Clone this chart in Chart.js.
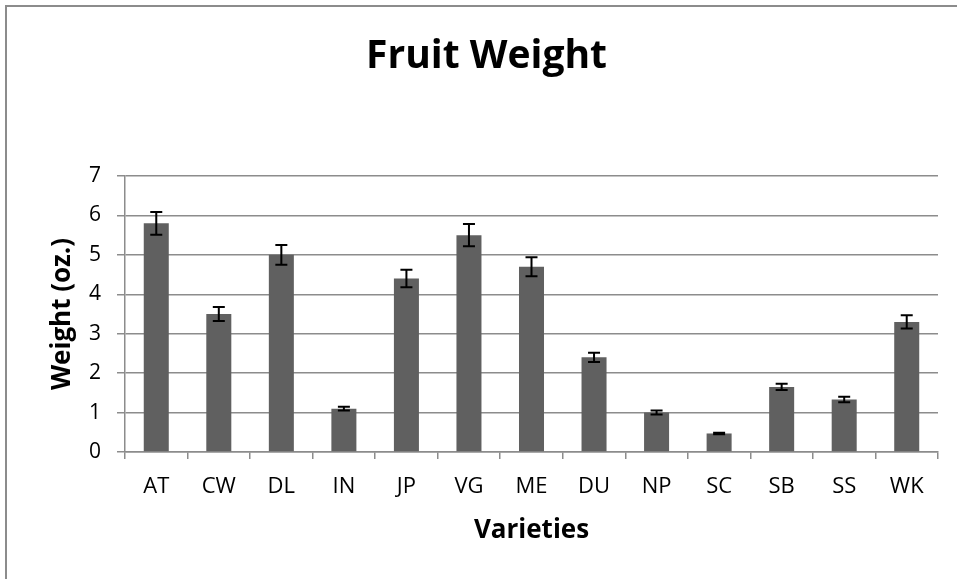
<!DOCTYPE html>
<html>
<head>
<meta charset="utf-8">
<script src="https://cdn.jsdelivr.net/npm/chart.js@4/dist/chart.umd.min.js"></script>
<style>
  html, body { margin: 0; padding: 0; background: #fff; overflow: hidden; }
  #frame { position: absolute; left: 5px; top: 5px; width: 1200px; height: 900px; border: 2px solid #8c8c8c; box-sizing: border-box; }
  #wrap { position: absolute; left: 0; top: 0; width: 957px; height: 579px; }
</style>
</head>
<body>
<div id="frame"></div>
<div id="wrap"><canvas id="c"></canvas></div>
<script>
const categories = ['AT', 'CW', 'DL', 'IN', 'JP', 'VG', 'ME', 'DU', 'NP', 'SC', 'SB', 'SS', 'WK'];
const weights = [5.8, 3.5, 5.0, 1.1, 4.4, 5.5, 4.7, 2.4, 1.0, 0.47, 1.65, 1.33, 3.3];
const errors = [0.29, 0.18, 0.25, 0.05, 0.22, 0.28, 0.24, 0.12, 0.05, 0.02, 0.08, 0.07, 0.17];
const yTicks = [0, 1, 2, 3, 4, 5, 6, 7];

const FONT = '"Open Sans", sans-serif';
const GRID = '#8c8c8c';

const errorBars = {
  id: 'errorBars',
  afterDatasetsDraw(chart) {
    const meta = chart.getDatasetMeta(0);
    const ys = chart.scales.y;
    const ctx = chart.ctx;
    ctx.save();
    ctx.strokeStyle = '#000';
    ctx.lineWidth = 2;
    meta.data.forEach((bar, i) => {
      const v = weights[i], e = errors[i];
      const yt = ys.getPixelForValue(v + e);
      const yb = ys.getPixelForValue(v - e);
      const x = bar.x;
      ctx.beginPath();
      ctx.moveTo(x, yt); ctx.lineTo(x, yb);
      ctx.moveTo(x - 6, yt); ctx.lineTo(x + 6, yt);
      ctx.moveTo(x - 6, yb); ctx.lineTo(x + 6, yb);
      ctx.stroke();
    });
    ctx.restore();
  }
};

new Chart(document.getElementById('c'), {
  type: 'bar',
  data: {
    labels: categories,
    datasets: [{
      data: weights,
      backgroundColor: '#606060',
      borderWidth: 0,
      categoryPercentage: 1,
      barPercentage: 0.4
    }]
  },
  plugins: [errorBars],
  options: {
    responsive: true,
    maintainAspectRatio: false,
    animation: false,
    layout: { padding: { left: 35, right: 19, top: 0, bottom: 0 } },
    plugins: {
      legend: { display: false },
      tooltip: { enabled: false },
      title: {
        display: true,
        text: 'Fruit Weight',
        color: '#000',
        font: { family: FONT, size: 39, weight: 'bold', lineHeight: 1.2 },
        padding: { top: 33, bottom: 96.2 }
      }
    },
    scales: {
      x: {
        afterFit(scale) { scale.height = 127; },
        grid: { display: true, drawOnChartArea: false, drawTicks: true, tickLength: 7, color: GRID, lineWidth: 1.5, offset: true },
        border: { display: true, color: GRID, width: 1.5 },
        ticks: { color: '#000', font: { family: FONT, size: 22 }, padding: 15, maxRotation: 0 },
        title: {
          display: true, text: 'Varieties', color: '#000',
          font: { family: FONT, size: 26, weight: 'bold', lineHeight: 1.2 },
          padding: { top: 0, bottom: 33 }
        }
      },
      y: {
        min: 0, max: 7,
        afterFit(scale) { scale.width = 90; },
        afterBuildTicks(scale) { scale.ticks = yTicks.map(v => ({ value: v })); },
        grid: { color: GRID, lineWidth: 1.5, tickLength: 8, drawTicks: true },
        border: { display: true, color: GRID, width: 1.5 },
        ticks: { color: '#000', font: { family: FONT, size: 21 }, padding: 16 },
        title: {
          display: true, text: 'Weight (oz.)', color: '#000',
          font: { family: FONT, size: 26, weight: 'bold', lineHeight: 1.2 },
          padding: { top: 12, bottom: 0 }
        }
      }
    }
  }
});
</script>
</body>
</html>
